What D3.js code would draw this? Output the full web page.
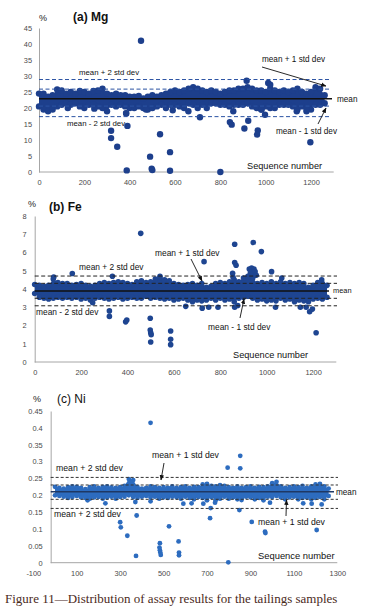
<!DOCTYPE html>
<html>
<head>
<meta charset="utf-8">
<script src="https://cdn.jsdelivr.net/npm/d3@7"></script>
<style>
  body { margin: 0; background: #fff; }
  svg { display: block; }
  .tick text { fill: #4a4a4a; }
</style>
</head>
<body>
<script>
// sequence positions where the band edges were read (every 20 samples)
const bandSeq = d3.range(0, 1261, 20);

// (a) Mg, %
const mgHi = [24.5,24.5,23.5,24,25.8,25.5,24.5,25,24.5,25.3,25,24.5,25.3,25.5,26,24.5,24,24.5,24,24,
  23.5,23.5,23.8,23,23.5,24,23.5,24,24.5,25,25.5,25,25.5,26,26.5,26,25.5,25,25.5,25,
  24.5,25,25.5,25.5,26,26,26.5,26,25.5,25.5,25,26,25.5,25,25.5,25,25.5,26,25,24.5,
  25,26.5,26,24];
const mgLo = [20.5,19.5,19,19.5,20.5,21,21.5,21,21.5,20.5,20,21,21,20.5,20,19,21,20.5,21,20.5,
  20,20,20.5,20,19.5,20,20.5,21,20,21,21,20.5,20,21.5,21,20,21,20,21.5,21.5,
  21,21,20.5,21,21,21,21.5,20.5,20,19.5,20.5,20,20,21,21,21,20.5,19.5,20.5,19,
  19.5,21,21,21.5];
const mgOut = [[450,41],[318,12.9],[318,10.6],[345,7.9],[387,0.5],[390,14.4],[385,18.3],[534,11.8],
  [490,4.8],[497,1.0],[500,0.6],[578,6.2],[578,0.4],[800,0],[857,19],[842,15.6],[850,14.8],
  [906,13.6],[923,16.0],[965,13],[962,11.7],[982,19.5],[997,17.9],[1197,9.3],[244,19.8],
  [384,18.4],[472,19.5],[127,20],[590,19.3],[659,19],[710,17.1],[1137,19],[1181,19.5],
  [916,28.5],[1011,27.8],[1020,27.3]];
const mgLines = { p2: 28.9, p1: 25.9, mean: 22.9, m1: 20.6, m2: 17.3 };
const mgYTicks = [0,5,10,15,20,25,30,35,40,45];
const mgXTicks = [0,200,400,600,800,1000,1200];

// (b) Fe, %
const feHi = [4.25,4.2,4.15,4.2,4.55,4.35,4.3,4.3,4.2,4.25,4.3,4.2,4.15,4.2,4.3,4.35,4.3,4.35,4.4,4.35,
  4.3,4.25,4.4,4.45,4.35,4.4,4.55,4.6,4.5,4.45,4.3,4.25,4.2,4.25,4.3,4.2,4.3,4.1,4.15,4.3,
  4.35,4.3,4.4,4.5,4.4,4.6,4.7,4.6,4.3,4.35,4.3,4.4,4.3,4.4,4.3,4.35,4.3,4.35,4.3,4.1,
  4.2,4.35,4.3,4.2];
const feLo = [3.75,3.55,3.5,3.45,3.5,3.55,3.5,3.55,3.5,3.55,3.45,3.5,3.4,3.5,3.55,3.5,3.45,3.5,3.55,3.45,
  3.5,3.55,3.5,3.5,3.6,3.5,3.55,3.5,3.45,3.5,3.4,3.45,3.5,3.4,3.3,3.4,3.35,3.4,3.5,3.4,
  3.5,3.4,3.45,3.3,3.5,3.55,3.6,3.5,3.4,3.45,3.35,3.4,3.35,3.5,3.4,3.45,3.3,3.4,3.35,3.3,
  3.45,3.5,3.45,3.55];
const feOut = [[457,7.05],[162,4.85],[335,4.7],[250,3.25],[322,2.8],[322,2.5],[392,2.2],[397,2.3],
  [498,2.4],[498,1.75],[500,1.6],[502,1.5],[500,1.1],[586,1.7],[586,1.25],[586,0.95],
  [730,5.5],[862,6.45],[862,5.45],[868,5.3],[942,6.55],[977,6.05],[1021,4.95],[1213,1.6],
  [1185,2.75],[1237,4.5],[853,4.86],[855,4.64],[925,5.1],[935,5.15],[945,5.1],[930,4.9],
  [940,4.85],[950,4.95],[920,4.7],[955,4.75],[1065,4.6],[651,3.05],[722,2.95],[750,3.0],
  [790,3.0],[862,3.0],[875,3.1],[1038,3.0],[1145,3.0],[1170,3.0],[1197,2.9],[82,4.65],[540,4.7]];
const feLines = { p2: 4.71, p1: 4.31, mean: 3.89, m1: 3.49, m2: 3.08 };
const feYTicks = [0,1,2,3,4,5,6,7,8];
const feXTicks = [0,200,400,600,800,1000,1200];

// (c) Ni, %
const niHi = [0.225,0.222,0.22,0.224,0.226,0.225,0.222,0.218,0.224,0.226,0.222,0.225,0.226,0.223,0.222,0.224,
  0.228,0.248,0.245,0.224,0.22,0.222,0.226,0.224,0.222,0.224,0.222,0.226,0.222,0.224,0.226,0.222,
  0.225,0.224,0.232,0.234,0.228,0.226,0.23,0.228,0.224,0.222,0.226,0.222,0.224,0.226,0.222,0.225,
  0.224,0.226,0.236,0.24,0.226,0.222,0.224,0.226,0.224,0.228,0.222,0.226,0.232,0.234,0.226,0.22];
const niLo = [0.2,0.198,0.196,0.192,0.195,0.198,0.194,0.192,0.19,0.194,0.195,0.19,0.194,0.196,0.19,0.195,
  0.196,0.2,0.195,0.192,0.196,0.198,0.194,0.196,0.19,0.194,0.192,0.196,0.194,0.19,0.196,0.192,
  0.188,0.195,0.192,0.185,0.195,0.185,0.19,0.196,0.19,0.194,0.188,0.192,0.196,0.194,0.188,0.192,
  0.185,0.196,0.195,0.198,0.194,0.188,0.194,0.196,0.188,0.192,0.194,0.188,0.192,0.195,0.188,0.198];
const niOut = [[440,0.415],[300,0.12],[303,0.105],[333,0.08],[376,0.14],[373,0.02],[483,0.058],
  [481,0.045],[483,0.037],[485,0.03],[487,0.023],[525,0.108],[569,0.063],[571,0.03],[571,0.022],
  [714,0.132],[717,0.162],[795,0.282],[798,0.001],[853,0.317],[853,0.28],[849,0.156],[906,0.121],
  [967,0.092],[969,0.088],[1205,0.097],[232,0.176],[591,0.175],[629,0.176],[683,0.175],[737,0.178],
  [859,0.186],[990,0.178],[1143,0.176],[1182,0.175],[1228,0.173],[150,0.185],[370,0.18],[440,0.182]];
const niLines = { p2: 0.253, p1: 0.2305, mean: 0.2106, m1: 0.188, m2: 0.161 };
const niYTicks = [0,0.05,0.1,0.15,0.2,0.25,0.3,0.35,0.4,0.45];
const niXTicks = [-100,100,300,500,700,900,1100,1300];

const svg = d3.select("body").append("svg")
    .attr("width", 380)
    .attr("height", 616);

svg.append("defs").append("marker")
    .attr("id", "arr")
    .attr("viewBox", "0 0 10 10")
    .attr("refX", 9).attr("refY", 5)
    .attr("markerWidth", 6).attr("markerHeight", 6)
    .attr("orient", "auto")
  .append("path")
    .attr("d", "M0,1L10,5L0,9z")
    .attr("fill", "#111");

function drawPanel(p)
{
    let g = svg.append("g");
    let x = d3.scaleLinear().domain(p.xDomain).range(p.xRange);
    let y = d3.scaleLinear().domain(p.yDomain).range(p.yRange);
    let axisX = x(p.yAxisAt);

    // axes (grey, no tick marks)
    g.append("g")
        .attr("transform", `translate(0,${y(0)})`)
        .call(d3.axisBottom(x).tickValues(p.xTicks).tickFormat(d => String(d)).tickSize(0).tickPadding(8))
        .call(a => a.select(".domain").attr("stroke", "#a6a6a6").attr("d", `M${axisX},0H${p.xRange[1]}`))
        .selectAll("text").style("font", "7.4px 'Liberation Sans'");
    g.append("g")
        .attr("transform", `translate(${axisX},0)`)
        .call(d3.axisLeft(y).tickValues(p.yTicks).tickFormat(d => String(d)).tickSize(0).tickPadding(p.yPad))
        .call(a => a.select(".domain").attr("stroke", "#a6a6a6"))
        .selectAll("text").style("font", "7.4px 'Liberation Sans'");

    // dense band of samples
    let band = bandSeq.map((s, i) => ({ s: s, hi: p.hi[i], lo: p.lo[i] }));
    g.append("path")
        .datum(band)
        .attr("fill", p.color)
        .attr("d", d3.area().x(d => x(d.s)).y0(d => y(d.lo)).y1(d => y(d.hi)));
    g.append("g").selectAll("circle")
        .data(band.flatMap(d => [[d.s, d.hi], [d.s, d.lo]]).concat(p.out))
        .enter().append("circle")
        .attr("cx", d => x(d[0]))
        .attr("cy", d => y(d[1]))
        .attr("r", p.r)
        .attr("fill", p.color);

    // mean and std dev lines
    let x0 = axisX;
    ["p2", "p1", "m1", "m2"].forEach(k => {
        g.append("line")
            .attr("x1", x0).attr("x2", p.lineEnd)
            .attr("y1", y(p.lines[k])).attr("y2", y(p.lines[k]))
            .attr("stroke", p.dashColor)
            .attr("stroke-width", 1)
            .attr("stroke-dasharray", p.dash);
    });
    g.append("line")
        .attr("x1", x0).attr("x2", p.meanEnd)
        .attr("y1", y(p.lines.mean)).attr("y2", y(p.lines.mean))
        .attr("stroke", p.meanColor)
        .attr("stroke-width", 1.6);

    // titles and labels
    g.append("text").attr("x", p.pct[0]).attr("y", p.pct[1])
        .style("font", "9px 'Liberation Sans'").attr("fill", "#222").text("%");
    g.append("text").attr("x", p.title[0]).attr("y", p.title[1])
        .style("font", p.titleFont).attr("fill", "#111").text(p.titleText);

    p.labels.forEach(l => {
        g.append("text").attr("x", l[1]).attr("y", l[2])
            .style("font", `${l[3]}px 'Liberation Sans'`)
            .attr("fill", "#111")
            .text(l[0]);
    });
    p.arrows.forEach(a => {
        g.append("line")
            .attr("x1", a[0]).attr("y1", a[1]).attr("x2", a[2]).attr("y2", a[3])
            .attr("stroke", "#111").attr("stroke-width", 0.9)
            .attr("marker-end", "url(#arr)");
    });
}

drawPanel({
    hi: mgHi, lo: mgLo, out: mgOut, lines: mgLines,
    xTicks: mgXTicks, yTicks: mgYTicks,
    xDomain: [0, 1300], xRange: [39, 333.7], yDomain: [0, 45], yRange: [172, 28],
    yAxisAt: 0, yPad: 7, lineEnd: 330, meanEnd: 332, r: 3.2,
    color: "#1d3f8c", dashColor: "#2b53a3", dash: "4,2.5", meanColor: "#111",
    pct: [39, 21], title: [73, 21], titleText: "(a) Mg", titleFont: "bold 12px 'Liberation Sans'",
    labels: [["mean + 2 std dev", 79, 75, 7.8], ["mean - 2 std dev", 67, 126, 7.8],
             ["mean + 1 std dev", 262, 62, 8.2], ["mean - 1 std dev", 276, 134, 8.2],
             ["mean", 337, 102, 8.2], ["Sequence number", 247, 169, 9.2]],
    arrows: [[262, 67, 326, 86], [318, 124, 326, 108]]
});

drawPanel({
    hi: feHi, lo: feLo, out: feOut, lines: feLines,
    xTicks: feXTicks, yTicks: feYTicks,
    xDomain: [0, 1300], xRange: [34.7, 336.3], yDomain: [0, 8], yRange: [362, 216],
    yAxisAt: 0, yPad: 8, lineEnd: 337, meanEnd: 329, r: 2.8,
    color: "#1e4591", dashColor: "#222", dash: "4,2.5", meanColor: "#111",
    pct: [28, 207], title: [49, 211], titleText: "(b) Fe", titleFont: "bold 12px 'Liberation Sans'",
    labels: [["mean + 2 std dev", 79, 270, 8.4], ["mean - 2 std dev", 36, 315, 8.4],
             ["mean + 1 std dev", 155, 256, 8.4], ["mean - 1 std dev", 208, 330, 8.4],
             ["mean", 333, 293, 7.4], ["Sequence number", 233, 358, 9.2]],
    arrows: [[191, 259, 202, 281], [240, 318, 244, 299]]
});

drawPanel({
    hi: niHi, lo: niLo, out: niOut, lines: niLines,
    xTicks: niXTicks, yTicks: niYTicks,
    xDomain: [-100, 1300], xRange: [33.3, 337.3], yDomain: [0, 0.45], yRange: [562.7, 411],
    yAxisAt: -20, yPad: 8, lineEnd: 338, meanEnd: 334, r: 2.4,
    color: "#2d6cbf", dashColor: "#333", dash: "3,2", meanColor: "#1f3864",
    pct: [33, 402], title: [57, 403], titleText: "(c) Ni", titleFont: "12px 'Liberation Sans'",
    labels: [["mean + 2 std dev", 56, 471, 8.7], ["mean + 2 std dev", 54, 517, 8.7],
             ["mean + 1 std dev", 152, 458, 8.7], ["mean + 1 std dev", 258, 525, 8.7],
             ["mean", 336, 495, 8.2], ["Sequence number", 258, 559, 9.4]],
    arrows: [[164, 463, 161, 480], [286, 516, 286.5, 500]]
});

svg.append("text")
    .attr("x", 5).attr("y", 603)
    .style("font", "13px 'Liberation Serif'")
    .attr("fill", "#4b2a1c")
    .text("Figure 11\u2014Distribution of assay results for the tailings samples");
</script>
</body>
</html>
